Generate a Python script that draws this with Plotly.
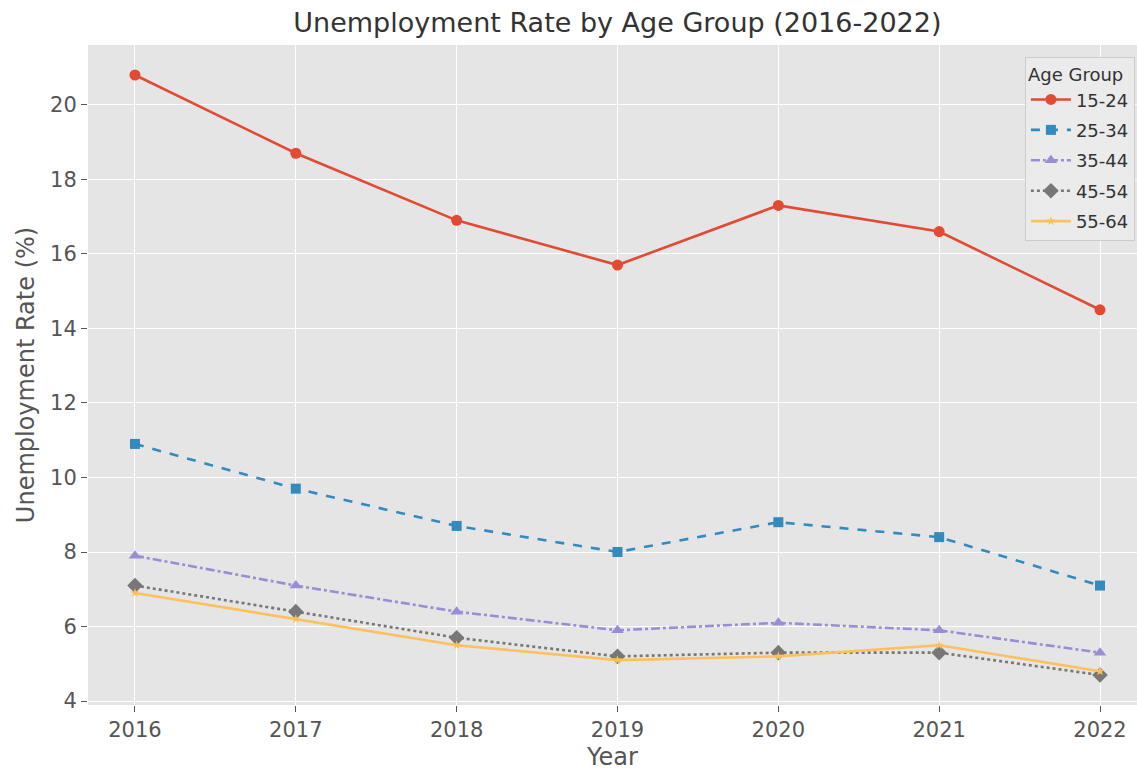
import plotly.graph_objects as go

years = [2016, 2017, 2018, 2019, 2020, 2021, 2022]
groups = ["15-24", "25-34", "35-44", "45-54", "55-64"]
rate_15_24 = [20.8, 18.7, 16.9, 15.7, 17.3, 16.6, 14.5]
rate_25_34 = [10.9, 9.7, 8.7, 8.0, 8.8, 8.4, 7.1]
rate_35_44 = [7.9, 7.1, 6.4, 5.9, 6.1, 5.9, 5.3]
rate_45_54 = [7.1, 6.4, 5.7, 5.2, 5.3, 5.3, 4.7]
rate_55_64 = [6.9, 6.2, 5.5, 5.1, 5.2, 5.5, 4.8]
series = [rate_15_24, rate_25_34, rate_35_44, rate_45_54, rate_55_64]
y_ticks = [4, 6, 8, 10, 12, 14, 16, 18, 20]

colors = ["#E24A33", "#348ABD", "#988ED5", "#777777", "#FBC15E"]
dashes = ["solid", "dash", "dashdot", "dot", "solid"]
symbols = ["circle", "square", "triangle-up", "diamond", "star"]
msizes = [11, 10, 11, 12, 7]

fig = go.Figure()
for name, vals, c, d, s, ms in zip(groups, series, colors, dashes, symbols, msizes):
    fig.add_trace(go.Scatter(
        x=years, y=vals, name=name, mode="lines+markers",
        legendgroup=name,
        line=dict(color=c, width=2.6, dash=d),
        marker=dict(symbol=s, size=ms, color=c),
    ))

font_family = "DejaVu Sans"
fig.update_layout(
    width=1137, height=771,
    margin=dict(l=88, r=0, t=45, b=66),
    paper_bgcolor="white",
    plot_bgcolor="#E5E5E5",
    font=dict(family=font_family, color="#555555"),
    title=dict(text="Unemployment Rate by Age Group (2016-2022)",
               x=0.543, xanchor="center", y=0.971, yanchor="middle",
               font=dict(size=27, color="#333333", family=font_family)),
    legend=dict(
        title=dict(text="Age Group", font=dict(size=18, color="#333333")),
        font=dict(size=18, color="#333333"),
        x=0.998, xanchor="right", y=0.982, yanchor="top",
        traceorder="grouped", tracegroupgap=4,
        bgcolor="#EBEBEB", bordercolor="#CCCCCC", borderwidth=1,
        itemwidth=40,
    ),
    showlegend=True,
)
fig.update_xaxes(
    range=[2015.708, 2022.23],
    tickvals=years, ticktext=[str(y) for y in years],
    showgrid=True, gridcolor="white", gridwidth=1.2,
    zeroline=False, ticks="outside", ticklen=6, tickcolor="#555555",
    tickfont=dict(size=21, color="#555555"),
    title=dict(text="Year", font=dict(size=24, color="#555555"), standoff=8),
    showline=False,
)
fig.update_yaxes(
    range=[3.895, 21.605],
    tickvals=y_ticks,
    showgrid=True, gridcolor="white", gridwidth=1.2,
    zeroline=False, ticks="outside", ticklen=6, tickcolor="#555555",
    tickfont=dict(size=21, color="#555555"),
    title=dict(text="Unemployment Rate (%)", font=dict(size=24, color="#555555"), standoff=8),
    showline=False,
)

fig.write_html(
    "out.html",
    config={"displayModeBar": False},
    post_script="document.body.style.margin='0';document.body.style.overflow='hidden';",
)
